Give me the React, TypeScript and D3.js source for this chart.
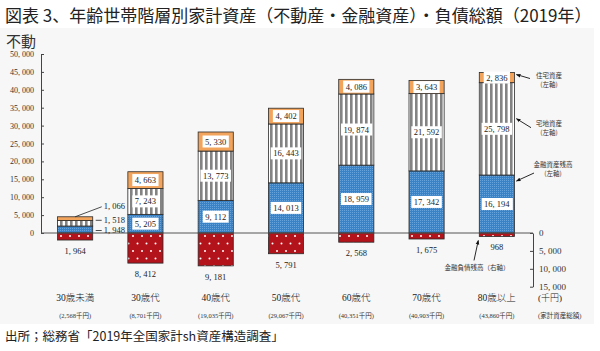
import React, { useRef, useEffect } from "react";
import * as d3 from "d3";

const categories = ["30歳未満", "30歳代", "40歳代", "50歳代", "60歳代", "70歳代", "80歳以上"];
const totalLabels = ["(2,568千円)", "(8,701千円)", "(19,035千円)", "(29,067千円)", "(40,351千円)", "(40,903千円)", "(43,860千円)"];
const financial = [1948, 5205, 9112, 14013, 18959, 17342, 16194];
const land = [1518, 7243, 13773, 16443, 19874, 21592, 25798];
const housing = [1066, 4663, 5330, 4402, 4086, 3643, 2836];
const debt = [1964, 8412, 9181, 5791, 2568, 1675, 968];
const leftTicks = [0, 5000, 10000, 15000, 20000, 25000, 30000, 35000, 40000, 45000, 50000];
const rightTicks = [0, 5000, 10000, 15000];

const fmt = (v: number) => d3.format(",")(v).replace(",", ", ");

export default function App() {
  const svgRef = useRef<SVGSVGElement>(null);

  useEffect(() => {
    const svg = d3.select(svgRef.current);
    svg.selectAll("*").remove();
    const serif = "'Liberation Serif', 'Noto Sans CJK JP', serif";
    const sans = "'Noto Sans CJK JP', sans-serif";

    // panel background
    svg.append("rect").attr("x", 0).attr("y", 28).attr("width", 594).attr("height", 296).attr("fill", "#f7f7f7");

    // title + source
    svg.append("text").attr("x", 5).attr("y", 22).attr("font-family", sans).attr("font-size", 17)
      .attr("font-weight", 400).attr("fill", "#222")
      .text("図表 3、年齢世帯階層別家計資産（不動産・金融資産）・負債総額（2019年）");
    svg.append("text").attr("x", 5).attr("y", 341).attr("font-family", sans).attr("font-size", 12.5)
      .attr("fill", "#222").text("出所；総務省「2019年全国家計sh資産構造調査」");
    svg.append("text").attr("x", 6).attr("y", 47).attr("font-family", sans).attr("font-size", 15)
      .attr("fill", "#333").text("不動");

    const y = d3.scaleLinear().domain([-15000, 50000]).range([286.7, 54]);
    const x = d3.scaleBand().domain(categories).range([40, 532]).paddingInner(0.5).paddingOuter(0.25);
    const bw = x.bandwidth();

    // patterns
    const defs = svg.append("defs");
    const stripe = defs.append("pattern").attr("id", "stripe").attr("patternUnits", "userSpaceOnUse")
      .attr("width", 5).attr("height", 5);
    stripe.append("rect").attr("width", 5).attr("height", 5).attr("fill", "#fff");
    stripe.append("rect").attr("width", 2.6).attr("height", 5).attr("fill", "#838383");

    const blue = defs.append("pattern").attr("id", "blue").attr("patternUnits", "userSpaceOnUse")
      .attr("width", 2).attr("height", 2);
    blue.append("rect").attr("width", 2).attr("height", 2).attr("fill", "#3a82c6");
    blue.append("rect").attr("width", 1).attr("height", 1).attr("fill", "#66a3dc");

    const red = defs.append("pattern").attr("id", "red").attr("patternUnits", "userSpaceOnUse")
      .attr("width", 9).attr("height", 15);
    red.append("rect").attr("width", 9).attr("height", 15).attr("fill", "#b3131b");
    red.append("circle").attr("cx", 2.5).attr("cy", 3.5).attr("r", 1).attr("fill", "#fff");
    red.append("circle").attr("cx", 7).attr("cy", 11).attr("r", 1).attr("fill", "#fff");

    const marker = defs.append("marker").attr("id", "arrow").attr("viewBox", "0 0 10 10")
      .attr("refX", 9).attr("refY", 5).attr("markerWidth", 5).attr("markerHeight", 5).attr("orient", "auto");
    marker.append("path").attr("d", "M0,1L10,5L0,9Z").attr("fill", "#111");

    // stacked data
    const table = categories.map((c, i) => ({ cat: c, financial: financial[i], land: land[i], housing: housing[i] }));
    const keys = ["financial", "land", "housing"];
    const fills: Record<string, string> = { financial: "url(#blue)", land: "url(#stripe)", housing: "#f2a45c" };
    const series = d3.stack<any>().keys(keys)(table);

    const g = svg.append("g");
    series.forEach((s) => {
      g.append("g").selectAll("rect").data(s).join("rect")
        .attr("x", (d: any) => x(d.data.cat)!)
        .attr("y", (d) => y(d[1]))
        .attr("width", bw)
        .attr("height", (d) => y(d[0]) - y(d[1]))
        .attr("fill", fills[s.key])
        .attr("stroke", "#2a2a2a").attr("stroke-width", 0.8);
    });
    // debt
    g.append("g").selectAll("rect").data(debt).join("rect")
      .attr("x", (d, i) => x(categories[i])!)
      .attr("y", y(0))
      .attr("width", bw)
      .attr("height", (d) => y(-d) - y(0))
      .attr("fill", "url(#red)")
      .attr("stroke", "#2a2a2a").attr("stroke-width", 0.8);

    // axes
    const yLeft = d3.scaleLinear().domain([0, 50000]).range([y(0), y(50000)]);
    const la = svg.append("g").attr("transform", "translate(41,0)")
      .call(d3.axisLeft(yLeft).tickValues(leftTicks).tickSize(-3).tickSizeOuter(0).tickPadding(7).tickFormat((d) => fmt(+d)));
    la.selectAll("text").attr("font-family", serif).attr("font-size", 8).attr("fill", "#333");
    la.selectAll("line, path").attr("stroke", "#444");

    const yRight = d3.scaleLinear().domain([0, 15000]).range([y(0), y(-15000)]);
    const ra = svg.append("g").attr("transform", "translate(533,0)")
      .call(d3.axisRight(yRight).tickValues(rightTicks).tickSize(-3).tickSizeOuter(0).tickPadding(6).tickFormat((d) => fmt(+d)));
    ra.selectAll("text").attr("font-family", serif).attr("font-size", 9).attr("fill", "#333");
    ra.selectAll("line, path").attr("stroke", "#444");

    svg.append("line").attr("x1", 41).attr("x2", 533).attr("y1", y(0)).attr("y2", y(0))
      .attr("stroke", "#555").attr("stroke-width", 1);

    // boxed value labels
    const boxLabel = (cx: number, cy: number, txt: string) => {
      const lg = svg.append("g");
      const t = lg.append("text").attr("x", cx).attr("y", cy).attr("dy", "0.35em")
        .attr("text-anchor", "middle").attr("font-family", serif).attr("font-size", 8.5)
        .attr("fill", "#222").text(txt);
      const bb = (t.node() as SVGTextElement).getBBox();
      lg.insert("rect", "text").attr("x", bb.x - 2.5).attr("y", bb.y - 1)
        .attr("width", bb.width + 5).attr("height", bb.height + 2).attr("fill", "#fff");
    };
    series.forEach((s) => {
      s.forEach((d: any, i) => {
        if (i === 0) return;
        boxLabel(x(d.data.cat)! + bw / 2, y((d[0] + d[1]) / 2), fmt(d[1] - d[0]));
      });
    });

    // first bar labels outside
    const x0 = x(categories[0])!;
    const lx = x0 + bw + 11;
    const small = (xx: number, yy: number, txt: string, anchor = "start") =>
      svg.append("text").attr("x", xx).attr("y", yy).attr("dy", "0.35em").attr("text-anchor", anchor)
        .attr("font-family", serif).attr("font-size", 8.5).attr("fill", "#222").text(txt);
    const top0 = financial[0] + land[0] + housing[0];
    svg.append("line").attr("x1", x0 + bw / 2).attr("y1", y(top0)).attr("x2", lx - 2).attr("y2", y(top0) - 10)
      .attr("stroke", "#222").attr("stroke-width", 0.8);
    small(lx, y(top0) - 11, fmt(housing[0]));
    const ly1 = y(financial[0] + land[0] / 2) - 3;
    svg.append("line").attr("x1", x0 + bw + 3).attr("x2", lx - 2).attr("y1", ly1).attr("y2", ly1).attr("stroke", "#222").attr("stroke-width", 0.8);
    small(lx, ly1, fmt(land[0]));
    const ly2 = y(financial[0] / 2) + 1;
    svg.append("line").attr("x1", x0 + bw + 3).attr("x2", lx - 2).attr("y1", ly2).attr("y2", ly2).attr("stroke", "#222").attr("stroke-width", 0.8);
    small(lx, ly2, fmt(financial[0]));

    // debt labels
    debt.forEach((d, i) => small(x(categories[i])! + bw / 2, y(-d) + 11, fmt(d), "middle"));

    // category labels
    categories.forEach((c, i) => {
      const cx = x(c)! + bw / 2;
      svg.append("text").attr("x", cx).attr("y", 301).attr("text-anchor", "middle")
        .attr("font-family", serif).attr("font-size", 9.5).attr("font-weight", 300).attr("fill", "#222").text(c);
      svg.append("text").attr("x", cx).attr("y", 318).attr("text-anchor", "middle")
        .attr("font-family", serif).attr("font-size", 6.5).attr("fill", "#333").text(totalLabels[i]);
    });
    svg.append("text").attr("x", 538).attr("y", 301).attr("font-family", serif).attr("font-size", 9)
      .attr("font-weight", 300).attr("fill", "#222").text("(千円)");
    svg.append("text").attr("x", 538).attr("y", 318).attr("font-family", serif).attr("font-size", 6.5)
      .attr("fill", "#333").text("(家計資産総額)");

    // annotations
    const last = categories.length - 1;
    const bx = x(categories[last])! + bw;
    const note = (cx: number, cy: number, lines: string[]) => {
      lines.forEach((l, k) => svg.append("text").attr("x", cx).attr("y", cy + k * 9).attr("dy", "0.35em")
        .attr("text-anchor", "middle").attr("font-family", sans).attr("font-size", 6.5).attr("fill", "#333").text(l));
    };
    const arrow = (x1: number, y1: number, x2: number, y2: number) =>
      svg.append("line").attr("x1", x1).attr("y1", y1).attr("x2", x2).attr("y2", y2)
        .attr("stroke", "#111").attr("stroke-width", 0.9).attr("marker-end", "url(#arrow)");
    const topL = y(financial[last] + land[last] + housing[last]);
    note(549, topL + 3, ["住宅資産", "(左軸)"]);
    arrow(530, topL + 6, bx + 2, topL + 2);
    const landTop = y(financial[last] + land[last]);
    note(549, landTop + 41, ["宅地資産", "(左軸)"]);
    arrow(531, landTop + 45, bx + 2, landTop + 36);
    const finTop = y(financial[last]);
    note(553, finTop - 10, ["金融資産残高", "(左軸)"]);
    arrow(534, finTop - 2, bx + 2, finTop + 6);
    const debtBottom = y(-debt[last]);
    note(477, debtBottom + 31, ["金融負債残高（右軸）"]);
    arrow(474, debtBottom + 24, x(categories[last])! - 1, debtBottom + 4);
  }, []);

  return (
    <div style={{ position: "absolute", left: 0, top: 0 }}>
      <svg ref={svgRef} width={600} height={351} style={{ display: "block", background: "#fff" }} />
    </div>
  );
}
